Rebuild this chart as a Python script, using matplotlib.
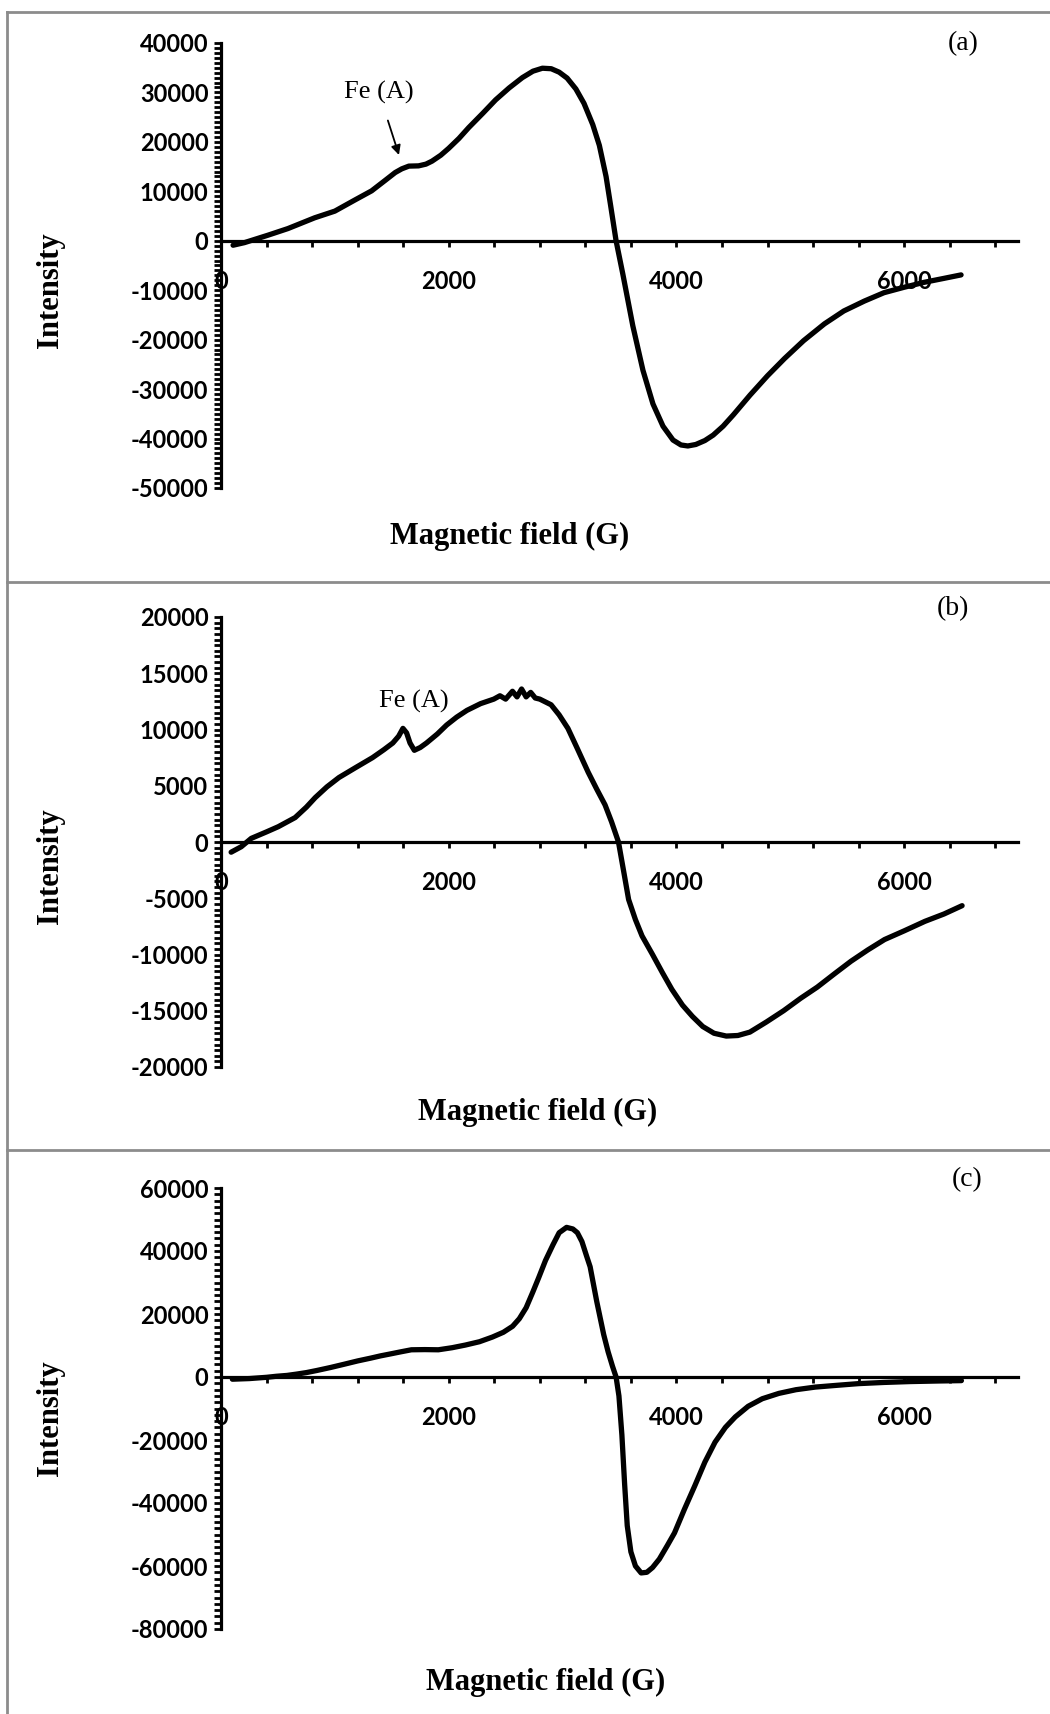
import matplotlib
matplotlib.use("Agg")
from matplotlib import pyplot as plt
from matplotlib.ticker import MultipleLocator, FuncFormatter
from matplotlib.lines import Line2D

plt.rcParams['axes.unicode_minus'] = False

# (a) spectrum
field_a = [106, 206, 412, 588, 823, 1000, 1176, 1323, 1441, 1530, 1588, 1650, 1735, 1800,
           1853, 1930, 2000, 2090, 2176, 2300, 2412, 2530, 2647, 2740, 2823, 2900, 2970,
           3040, 3117, 3188, 3265, 3323, 3382, 3423, 3470, 3529, 3617, 3706, 3794, 3882,
           3970, 4040, 4100, 4170, 4250, 4323, 4410, 4500, 4647, 4800, 4950, 5117, 5300,
           5470, 5650, 5823, 6000, 6176, 6350, 6500]
intensity_a = [-900, -375, 1125, 2470, 4650, 6000, 8250, 10100, 12200, 13800, 14550, 15100,
               15150, 15500, 16100, 17300, 18700, 20700, 22900, 25800, 28500, 30900, 33000,
               34300, 34900, 34800, 34100, 32900, 30700, 27800, 23500, 19300, 13000, 7000,
               0, -6700, -17200, -26200, -33000, -37500, -40300, -41300, -41500, -41200,
               -40400, -39300, -37500, -35200, -31200, -27300, -23800, -20200, -16800,
               -14200, -12200, -10500, -9400, -8400, -7600, -6900]

# (b) spectrum
field_b = [89, 178, 266, 400, 503, 651, 750, 828, 930, 1036, 1180, 1331, 1430, 1509, 1560,
           1598, 1630, 1660, 1698, 1750, 1805, 1900, 1982, 2070, 2160, 2280, 2396, 2450,
           2500, 2560, 2600, 2640, 2680, 2720, 2760, 2800, 2899, 2970, 3047, 3130, 3225,
           3300, 3373, 3430, 3491, 3540, 3580, 3640, 3698, 3790, 3876, 3960, 4053, 4140,
           4231, 4330, 4438, 4540, 4645, 4790, 4941, 5090, 5237, 5390, 5533, 5680, 5828,
           6000, 6183, 6350, 6509]
intensity_b = [-906, -420, 324, 900, 1360, 2170, 3100, 3950, 4900, 5730, 6600, 7500, 8200,
               8800, 9400, 10100, 9700, 8800, 8150, 8400, 8800, 9600, 10400, 11100, 11700,
               12300, 12700, 13000, 12700, 13400, 12900, 13600, 12900, 13300, 12800, 12700,
               12200, 11300, 10100, 8300, 6200, 4700, 3300, 1800, 0, -2800, -5110, -6900,
               -8350, -10000, -11600, -13100, -14500, -15500, -16400, -17000, -17250, -17200,
               -16900, -16000, -15000, -13900, -12900, -11700, -10600, -9600, -8670, -7900,
               -7050, -6400, -5660]

# (c) spectrum
field_c = [100, 249, 400, 486, 580, 664, 750, 842, 960, 1079, 1200, 1316, 1400, 1494, 1580,
           1672, 1790, 1909, 2030, 2146, 2270, 2383, 2480, 2561, 2620, 2680, 2739, 2790,
           2850, 2916, 2970, 3035, 3090, 3130, 3170, 3210, 3242, 3300, 3361, 3400, 3438,
           3470, 3495, 3521, 3545, 3568, 3600, 3640, 3690, 3740, 3790, 3850, 3920, 3983,
           4070, 4161, 4250, 4339, 4430, 4517, 4630, 4754, 4900, 5050, 5220, 5406, 5600,
           5821, 6050, 6295, 6503]
intensity_c = [-700, -500, -100, 230, 500, 920, 1400, 2070, 3000, 4030, 5100, 6000, 6700,
               7370, 8000, 8640, 8700, 8640, 9300, 10140, 11200, 12670, 14200, 16100, 18500,
               22000, 27000, 31500, 37000, 42000, 45800, 47500, 47000, 45800, 43000, 38500,
               35000, 24000, 13500, 8000, 3460, 0, -6000, -18400, -34000, -47200, -55500,
               -60000, -62200, -62000, -60500, -57800, -53500, -49500, -42000, -34560,
               -27000, -20700, -16000, -12670, -9300, -6900, -5200, -4030, -3200, -2650,
               -2100, -1730, -1450, -1270, -1150]

W, H = 1050, 1714
fig = plt.figure(figsize=(W / 100, H / 100), dpi=100)

TICK_FONT = dict(family='Lato', weight='bold', size=17)
SERIF = 'Liberation Serif'


def make_panel(top, bottom, field, intensity, ylim, ymajor, yminor):
    ax = fig.add_axes([221 / W, 1 - bottom / H, 797 / W, (bottom - top) / H])
    ax.plot(field, intensity, color='black', lw=3.8,
            solid_joinstyle='round', solid_capstyle='round')
    ax.set_xlim(0, 7000)
    ax.set_ylim(*ylim)
    ax.patch.set_visible(False)

    for s in ['top', 'right']:
        ax.spines[s].set_visible(False)
    ax.spines['bottom'].set_position(('data', 0))
    ax.spines['left'].set_linewidth(2.3)
    ax.spines['bottom'].set_linewidth(2.3)

    ax.xaxis.set_major_locator(MultipleLocator(2000))
    ax.xaxis.set_minor_locator(MultipleLocator(400))
    ax.yaxis.set_major_locator(MultipleLocator(ymajor))
    ax.yaxis.set_minor_locator(MultipleLocator(yminor))
    fmt = FuncFormatter(lambda v, p: str(int(round(v))))
    ax.xaxis.set_major_formatter(fmt)
    ax.yaxis.set_major_formatter(fmt)

    ax.tick_params(axis='x', which='both', direction='out', length=4, width=2, pad=17)
    ax.tick_params(axis='y', which='both', direction='out', length=5, width=2, pad=4)
    for lab in ax.get_xticklabels() + ax.get_yticklabels():
        lab.set_fontproperties(TICK_FONT)
    return ax


ax_a = make_panel(43, 488, field_a, intensity_a, (-50000, 40000), 10000, 1000)
ax_b = make_panel(617, 1067, field_b, intensity_b, (-20000, 20000), 5000, 500)
ax_c = make_panel(1188, 1629, field_c, intensity_c, (-80000, 60000), 20000, 2000)

# Fe(A) markers
ax_a.annotate('Fe (A)', xy=(1563, 17350), xytext=(1388, 29900),
              ha='center', va='center', fontsize=19, family=SERIF,
              arrowprops=dict(arrowstyle='-|>', color='black', lw=1.3,
                              mutation_scale=14, shrinkA=10, shrinkB=0))
ax_b.text(1695, 12470, 'Fe (A)', ha='center', va='center', fontsize=19, family=SERIF)

# panel letters and axis titles
for lbl, (x, y) in zip(['(a)', '(b)', '(c)'], [(963, 44), (953, 609), (967, 1180)]):
    fig.text(x / W, 1 - y / H, lbl, ha='center', va='center', fontsize=20, family=SERIF)

for y in [290, 866, 1418]:
    fig.text(51 / W, 1 - y / H, 'Intensity', rotation=90, ha='center', va='center',
             fontsize=22, family=SERIF, weight='bold')

for x, y in [(510, 536), (538, 1112), (546, 1682)]:
    fig.text(x / W, 1 - y / H, 'Magnetic field (G)', ha='center', va='center',
             fontsize=22, family=SERIF, weight='bold')

# gray frames around the three panels
border = '#8c8c8c'
for y in [12, 582, 1150]:
    fig.add_artist(Line2D([7 / W, 1], [1 - y / H, 1 - y / H], color=border, lw=2))
fig.add_artist(Line2D([7 / W, 7 / W], [1 - 12 / H, 0], color=border, lw=2))

fig.savefig('out.png', dpi=100)
